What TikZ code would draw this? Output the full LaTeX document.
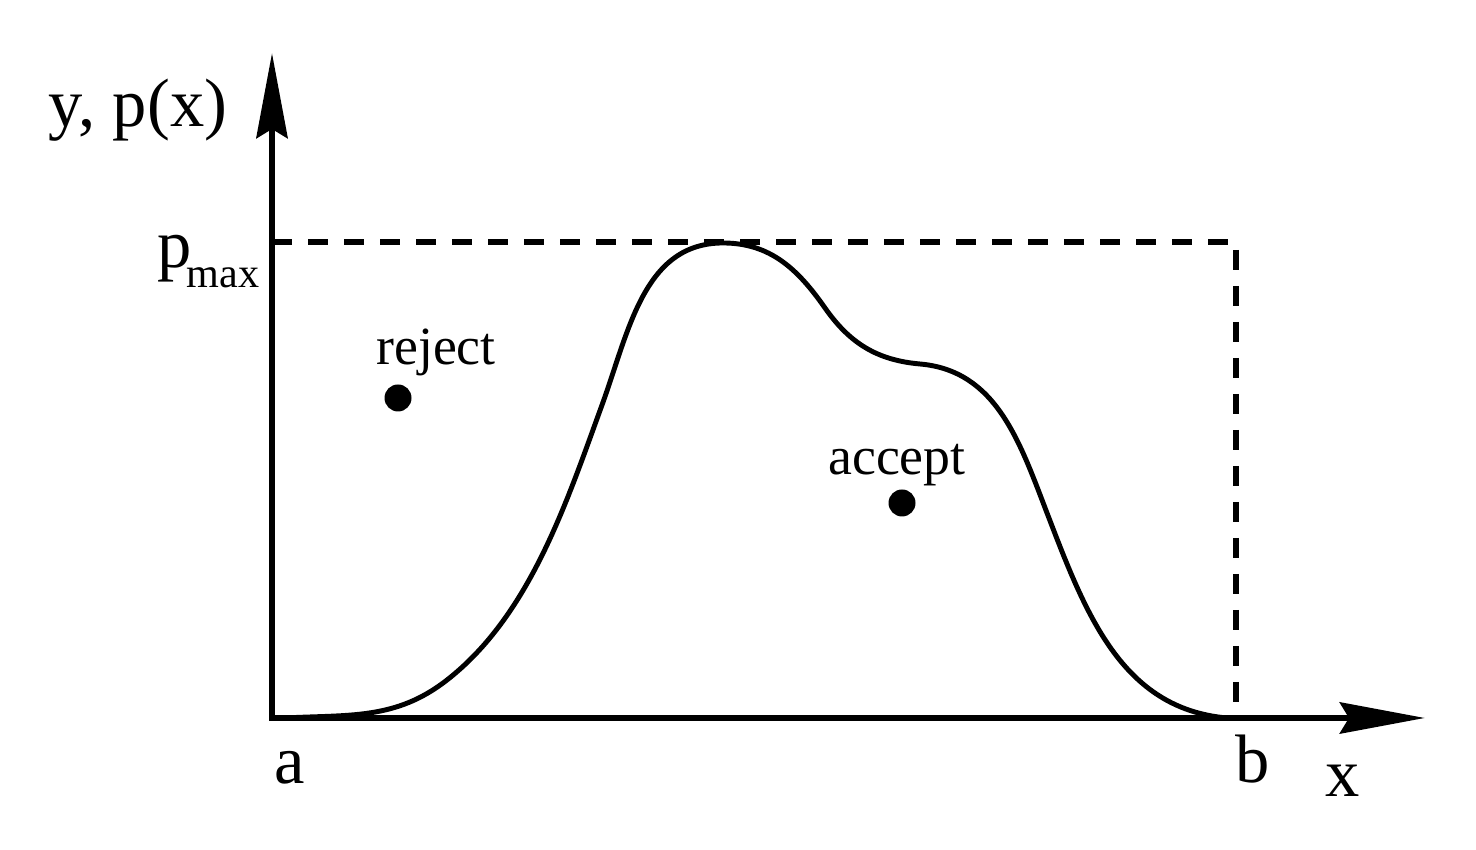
\documentclass[tikz,border=0pt]{standalone}
\usepackage{fontspec}
\setmainfont{Liberation Serif}
\usepackage{tikz}
\usetikzlibrary{arrows.meta}

\begin{document}
\begin{tikzpicture}[
  axis/.style={line width=1.9pt, line join=miter, {Stealth[length=0.85cm, width=0.31cm, inset=0.09cm]}-{Stealth[length=0.85cm, width=0.31cm, inset=0.09cm]}},
  boundline/.style={line width=1.5pt, dash pattern=on 0.2cm off 0.16cm},
  curve/.style={line width=1.4pt, line join=round},
  axislabel/.style={font=\fontsize{19.5}{20}\selectfont, inner sep=0pt, anchor=base},
  tag/.style={font=\fontsize{15.3}{16}\selectfont, inner sep=0pt, anchor=base},
  sample/.style={circle, fill=black, inner sep=0pt, minimum size=0.27cm}
]
\useasboundingbox (0,0) rectangle (14.76,8.5);
\coordinate (origin) at (2.72,1.32);
\coordinate (ytip) at (2.72,7.97);
\coordinate (xtip) at (14.25,1.32);
\coordinate (pmaxLeft) at (2.72,6.08);
\coordinate (pmaxRight) at (12.36,6.08);
\coordinate (bFoot) at (12.36,1.32);
% bounding box of the density
\draw[boundline] (pmaxLeft) -- (pmaxRight) -- (bFoot);
% density p(x)
\draw[curve] (2.85,1.32) to[out=3, in=218] (4.47,1.70)
  to[out=38, in=250, looseness=0.85] (6.02,4.45)
  to[out=70, in=180] (7.23,6.07)
  to[out=0, in=125] (8.25,5.42)
  to[out=-55, in=175] (9.20,4.86)
  to[out=-5, in=111] (10.47,3.37)
  to[out=-69, in=175] (12.27,1.32);
% axes
\draw[axis] (ytip) -- (origin) -- (xtip);
\node[axislabel] (ylabel) at (1.38,7.23) {y, p(x)};
\node[axislabel, anchor=base east] (pmax) at (2.60,5.82) {p\kern-0.07em\raisebox{-0.28em}{\fontsize{12}{13}\selectfont max}};
\node[axislabel] (alabel) at (2.90,0.66) {a};
\node[axislabel] (blabel) at (12.53,0.67) {b};
\node[axislabel] (xlabel) at (13.43,0.53) {x};
% sample points
\node[sample] (rejectDot) at (3.98,4.52) {};
\node[tag] (rejectLabel) at (4.36,4.85) {reject};
\node[sample] (acceptDot) at (9.02,3.47) {};
\node[tag] (acceptLabel) at (8.97,3.75) {accept};
\end{tikzpicture}
\end{document}
